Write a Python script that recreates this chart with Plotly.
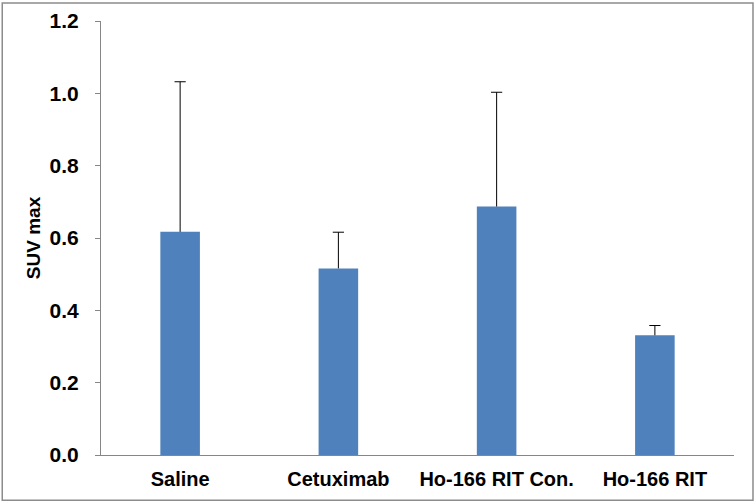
import plotly.graph_objects as go

# -- Data ------------------------------------------------------------------
groups = ["Saline", "Cetuximab", "Ho-166 RIT Con.", "Ho-166 RIT"]
suv_max = [0.617, 0.516, 0.687, 0.331]
sd_plus = [0.415, 0.100, 0.316, 0.027]
y_ticks = [0.0, 0.2, 0.4, 0.6, 0.8, 1.0, 1.2]

BAR_BLUE = "#4F81BD"
AXIS_GREY = "#868686"
FONT = "Liberation Sans, Arial"

err_top = [m + s for m, s in zip(suv_max, sd_plus)]

fig = go.Figure()
fig.add_trace(
    go.Bar(
        x=groups,
        y=suv_max,
        marker=dict(color=BAR_BLUE, line=dict(width=0)),
    )
)
# plus-only error bars: stem hangs down from the top value, cap is a marker
# (plotly's own caps would also draw one at the bar top)
fig.add_trace(
    go.Scatter(
        x=groups,
        y=err_top,
        mode="markers",
        marker=dict(symbol="line-ew", size=8, line=dict(color="black", width=1)),
        error_y=dict(
            type="data",
            symmetric=False,
            array=[0] * len(sd_plus),
            arrayminus=sd_plus,
            color="black",
            thickness=1,
            width=0,
        ),
        hoverinfo="skip",
    )
)

# grey frame round the whole chart area
fig.add_shape(
    type="rect",
    xref="paper", yref="paper",
    x0=-0.156, x1=1.030, y0=-0.104, y1=1.0415,
    line=dict(color="#8C8C8C", width=1.5),
    layer="below",
)

fig.update_layout(
    width=756,
    height=504,
    margin=dict(l=101, r=22, t=21, b=49),
    paper_bgcolor="white",
    plot_bgcolor="white",
    bargap=0.75,
    showlegend=False,
    font=dict(family=FONT, size=19, color="black"),
    xaxis=dict(
        showline=True,
        linecolor=AXIS_GREY,
        linewidth=1,
        ticks="",
        tickfont=dict(family=FONT, size=20, color="black", weight="bold"),
        ticklabelstandoff=6,
        showgrid=False,
        automargin=False,
    ),
    yaxis=dict(
        range=[0, 1.2],
        tickvals=y_ticks,
        tickformat=".1f",
        showline=True,
        linecolor=AXIS_GREY,
        linewidth=1,
        ticks="outside",
        ticklen=5,
        tickcolor=AXIS_GREY,
        tickfont=dict(family=FONT, size=21, color="black", weight="bold"),
        ticklabelstandoff=12,
        showgrid=False,
        zeroline=False,
        automargin=False,
        title=dict(
            text="SUV max",
            font=dict(family=FONT, size=19, color="black", weight="bold"),
            standoff=3,
        ),
    ),
)

# drop the browser's default 8px body margin so the figure sits at (0, 0)
fig.write_html(
    "out.html",
    config={"displayModeBar": False},
    post_script="document.body.style.margin = '0';",
)
